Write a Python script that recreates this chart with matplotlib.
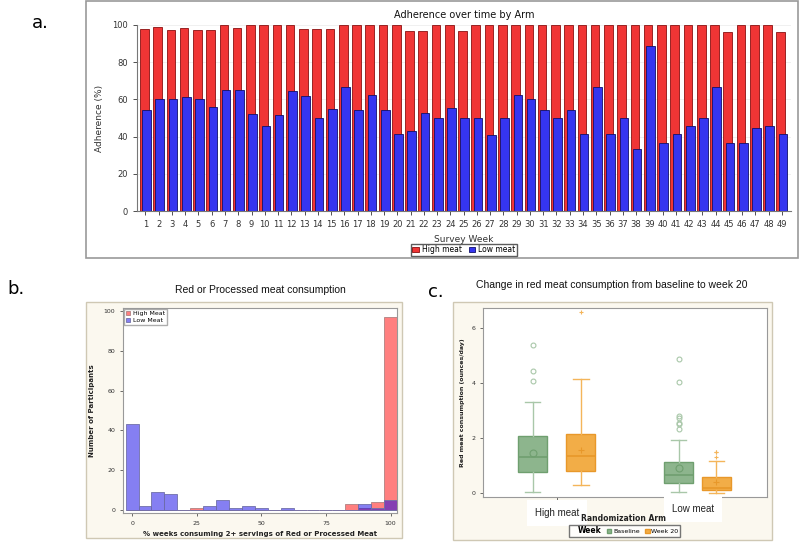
import matplotlib
matplotlib.use('Agg')
import matplotlib.pyplot as plt
from matplotlib.patches import Rectangle, Patch
import numpy as np

# ---- panel a: adherence by week ----
weeks = list(range(1, 50))
high_meat = [97.8, 98.7, 97.3, 98.6, 97.1, 97.1, 100, 98.2, 100, 100,
             100, 100, 97.7, 97.7, 97.7, 100, 100, 100, 100, 100,
             97.0, 96.8, 100, 100, 96.8, 100, 100, 100, 100, 100,
             100, 100, 100, 100, 100, 100, 100, 100, 100, 100,
             100, 100, 100, 100, 96.4, 100, 100, 100, 96.1]
low_meat = [54.3, 60.0, 60.2, 61.3, 60.2, 55.9, 65.1, 65.1, 52.2, 45.9,
            51.4, 64.7, 62.0, 50.0, 54.8, 66.7, 54.1, 62.4, 54.3, 41.6,
            42.8, 52.5, 50.0, 55.6, 50.0, 50.0, 41.0, 50.0, 62.4, 60.0,
            54.5, 50.0, 54.5, 41.6, 66.7, 41.6, 50.0, 33.3, 88.9, 36.4,
            41.6, 45.5, 50.0, 66.7, 36.4, 36.4, 44.4, 45.5, 41.6]

# ---- panel b: histogram counts (bin centres every 5%) ----
bin_centres = list(range(0, 101, 5))
high_counts = [0, 0, 0, 0, 0, 1, 0, 0, 0, 0, 0, 0, 0, 0, 0, 0, 0, 3, 1, 4, 97]
low_counts = [43, 2, 9, 8, 0, 0, 2, 5, 1, 2, 1, 0, 1, 0, 0, 0, 0, 0, 3, 1, 5]

# ---- panel c: box summaries (ounces/day) ----
arms = ['High meat', 'Low meat']
groups = ['Baseline', 'Week 20']
q1 = [0.75, 0.81, 0.36, 0.10]
med = [1.30, 1.33, 0.65, 0.18]
q3 = [2.06, 2.16, 1.12, 0.57]
whislo = [0.02, 0.28, 0.02, 0.0]
whishi = [3.30, 4.15, 1.94, 1.15]
means = [1.45, 1.55, 0.91, 0.40]
fliers = [[4.06, 4.45, 5.39], [6.58],
          [2.34, 2.52, 2.55, 2.73, 2.81, 4.02, 4.88], [1.31, 1.48, 1.50]]

fig = plt.figure(figsize=(8, 5.42), dpi=100)

# frames (behind everything)
fig.patches.append(Rectangle((0.1075, 0.524), 0.89, 0.474, transform=fig.transFigure,
                             fill=False, edgecolor='#999999', lw=1.2, zorder=-10))
fig.patches.append(Rectangle((0.1075, 0.0074), 0.395, 0.4354, transform=fig.transFigure,
                             facecolor='#fbf8ef', edgecolor='#cfc8b4', lw=1, zorder=-10))
fig.patches.append(Rectangle((0.566, 0.0037), 0.399, 0.439, transform=fig.transFigure,
                             facecolor='#fbf8ef', edgecolor='#cfc8b4', lw=1, zorder=-10))

# panel labels
fig.text(0.05, 0.958, 'a.', fontsize=13, va='center', ha='center')
fig.text(0.009, 0.467, 'b.', fontsize=13, va='center', ha='left')
fig.text(0.535, 0.461, 'c.', fontsize=13, va='center', ha='left')

# ================= a =================
ax = fig.add_axes([0.171, 0.6107, 0.818, 0.3432])
x = np.array(weeks)
ax.bar(x - 0.085, high_meat, width=0.65, color='#f03535', edgecolor='#8a1010', lw=0.6,
       label='High meat', zorder=2)
ax.bar(x + 0.085, low_meat, width=0.65, color='#3535f0', edgecolor='#10106a', lw=0.6,
       label='Low meat', zorder=3)
ax.set_xlim(0.35, 49.7)
ax.set_ylim(0, 100)
ax.set_xticks(weeks)
ax.set_yticks(range(0, 101, 20))
ax.tick_params(labelsize=6, colors='#333333', length=3, width=0.6)
ax.yaxis.grid(True, color='#eeeeee', lw=0.6, zorder=0)
ax.set_axisbelow(True)
for s in ['top', 'right']:
    ax.spines[s].set_visible(False)
for s in ['left', 'bottom']:
    ax.spines[s].set_color('#777777')
    ax.spines[s].set_linewidth(0.8)
ax.set_ylabel('Adherence (%)', fontsize=6.5, color='#333333', labelpad=6)
ax.set_xlabel('Survey Week', fontsize=6.5, color='#333333', labelpad=4)
ax.set_title('Adherence over time by Arm', fontsize=7, color='#111111', pad=5)
ax.legend(loc='upper center', bbox_to_anchor=(0.5, -0.155), ncol=2, fontsize=5.5,
          frameon=True, fancybox=False, edgecolor='#333333', handlelength=0.8,
          handleheight=0.8, columnspacing=1.0, borderpad=0.2, handletextpad=0.4)

# ================= b =================
axb = fig.add_axes([0.1538, 0.0535, 0.3425, 0.378])
axb.bar(bin_centres, high_counts, width=5, color=(1, 0, 0, 0.5), edgecolor='#b08080',
        lw=0.6, label='High Meat')
axb.bar(bin_centres, low_counts, width=5, color=(0.05, 0, 0.9, 0.5), edgecolor='#7070a8',
        lw=0.6, label='Low Meat')
axb.set_xlim(-3.5, 102.5)
axb.set_ylim(-1.5, 101.5)
axb.set_xticks([0, 25, 50, 75, 100])
axb.set_yticks(range(0, 101, 20))
axb.tick_params(labelsize=4.5, colors='#333333', length=2, width=0.5)
for s in axb.spines.values():
    s.set_color('#999999')
    s.set_linewidth(0.8)
axb.set_xlabel('% weeks consuming 2+ servings of Red or Processed Meat', fontsize=5,
               fontweight='bold', color='#222222', labelpad=4)
axb.set_ylabel('Number of Participants', fontsize=5, fontweight='bold', color='#222222',
               labelpad=6)
axb.legend(loc='upper left', fontsize=4.5, frameon=True, fancybox=False,
           edgecolor='#999999', borderpad=0.3, handlelength=0.7, handleheight=0.7,
           handletextpad=0.4, borderaxespad=0.15, labelspacing=0.2)
fig.text(0.325, 0.465, 'Red or Processed meat consumption', fontsize=7.5,
         ha='center', va='center', family='Liberation Sans', color='#111111')

# ================= c =================
axc = fig.add_axes([0.604, 0.083, 0.355, 0.349])
positions = [0.174, 0.344, 0.688, 0.821]
face = ['#8db58d', '#f2ad47', '#8db58d', '#f2ad47']
edge = ['#6f9f6f', '#e8982a', '#6f9f6f', '#e8982a']
light = ['#a9c7a9', '#f4b55a', '#a9c7a9', '#f4b55a']
for i in range(4):
    st = [dict(q1=q1[i], med=med[i], q3=q3[i], whislo=whislo[i], whishi=whishi[i],
               mean=means[i], fliers=fliers[i])]
    green = i % 2 == 0
    mk = 'o' if green else '+'
    axc.bxp(st, positions=[positions[i]], widths=0.102, showmeans=True, patch_artist=True,
            manage_ticks=False,
            boxprops=dict(facecolor=face[i], edgecolor=edge[i], lw=1),
            medianprops=dict(color=edge[i], lw=1.2),
            whiskerprops=dict(color=light[i], lw=1),
            capprops=dict(color=light[i], lw=1),
            capwidths=0.055,
            meanprops=dict(marker=mk, markerfacecolor='none', markeredgecolor=edge[i],
                           markersize=5, markeredgewidth=0.8),
            flierprops=dict(marker=mk, markerfacecolor='none', markeredgecolor=light[i],
                            markersize=3.5, markeredgewidth=0.8))
axc.set_xlim(0, 1)
axc.set_ylim(-0.15, 6.73)
axc.set_yticks([0, 2, 4, 6])
axc.set_xticks([0.26, 0.74])
axc.set_xticklabels([])
axc.tick_params(labelsize=4.5, colors='#333333', length=2, width=0.5)
for s in axc.spines.values():
    s.set_color('#999999')
    s.set_linewidth(0.8)
axc.set_ylabel('Red meat consumption (ounces/day)', fontsize=4.5, fontweight='bold',
               color='#222222', labelpad=5)
fig.text(0.6962, 0.0535, arms[0], fontsize=7, ha='center', va='center',
         family='Liberation Sans', color='#222222',
         bbox=dict(facecolor='white', edgecolor='none', boxstyle='square,pad=0.8'))
fig.text(0.8662, 0.0605, arms[1], fontsize=7, ha='center', va='center',
         family='Liberation Sans', color='#222222',
         bbox=dict(facecolor='white', edgecolor='none', boxstyle='square,pad=0.8'))
fig.text(0.779, 0.044, 'Randomization Arm', fontsize=5.5, fontweight='bold',
         ha='center', va='center', color='#222222')
handles = [Patch(visible=False), Patch(facecolor=face[0], edgecolor=edge[0]),
           Patch(facecolor=face[1], edgecolor=edge[1])]
leg = fig.legend(handles, ['Week'] + groups, loc='center', bbox_to_anchor=(0.781, 0.0205),
                 ncol=3, fontsize=4.5, frameon=True, fancybox=False, edgecolor='#555555',
                 handlelength=0.7, handleheight=0.7, handletextpad=0.3, columnspacing=0.9,
                 borderpad=0.25)
leg.get_texts()[0].set_fontweight('bold')
leg.get_texts()[0].set_fontsize(5.5)
fig.text(0.765, 0.474, 'Change in red meat consumption from baseline to week 20',
         fontsize=7.5, ha='center', va='center', family='Liberation Sans', color='#111111')

fig.savefig('out.png', dpi=100)
